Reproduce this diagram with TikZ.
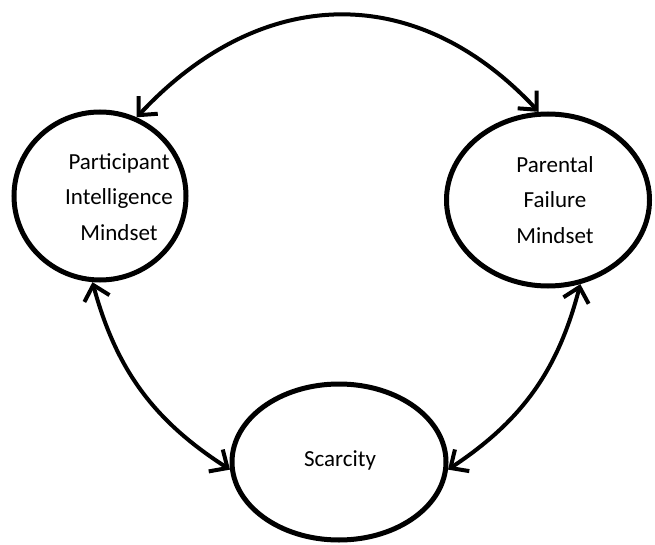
\documentclass[tikz,border=0pt]{standalone}
\usepackage{fontspec}
\setmainfont{Carlito}
\usetikzlibrary{shapes.geometric, arrows.meta}

\begin{document}
\begin{tikzpicture}[x=1pt, y=1pt,
    mindset/.style={ellipse, draw, line width=5pt, inner sep=0pt},
    caption/.style={align=center, font=\fontsize{23}{35.5}\selectfont, inner sep=0pt},
    link/.style={line width=4pt, {Straight Barb[length=14pt, width=26pt]}-{Straight Barb[length=14pt, width=26pt]}}]
    \useasboundingbox (0,0) rectangle (655,544);
    % Draw the three ellipses
    \node[mindset, minimum width=172pt, minimum height=168pt] (pim) at (100,348) {};
    \node[mindset, minimum width=203pt, minimum height=172pt] (pfm) at (548,344) {};
    \node[mindset, minimum width=214pt, minimum height=156pt] (sc) at (339,82) {};
    % Texts inside the ellipses
    \node[caption] (pimtext) at (119,347) {Participant\\Intelligence\\Mindset};
    \node[caption] (pfmtext) at (555,344) {Parental\\Failure\\Mindset};
    \node[caption] (sctext) at (340,84) {Scarcity};
    % Draw the two-way arrows between them
    \draw[link] (pim.65) to[out=47, in=133, looseness=1.15] (pfm.96);
    \draw[link] (pim.265) to[bend right=21] (sc.184);
    \draw[link] (pfm.291) to[bend left=21] (sc.356);
\end{tikzpicture}
\end{document}
